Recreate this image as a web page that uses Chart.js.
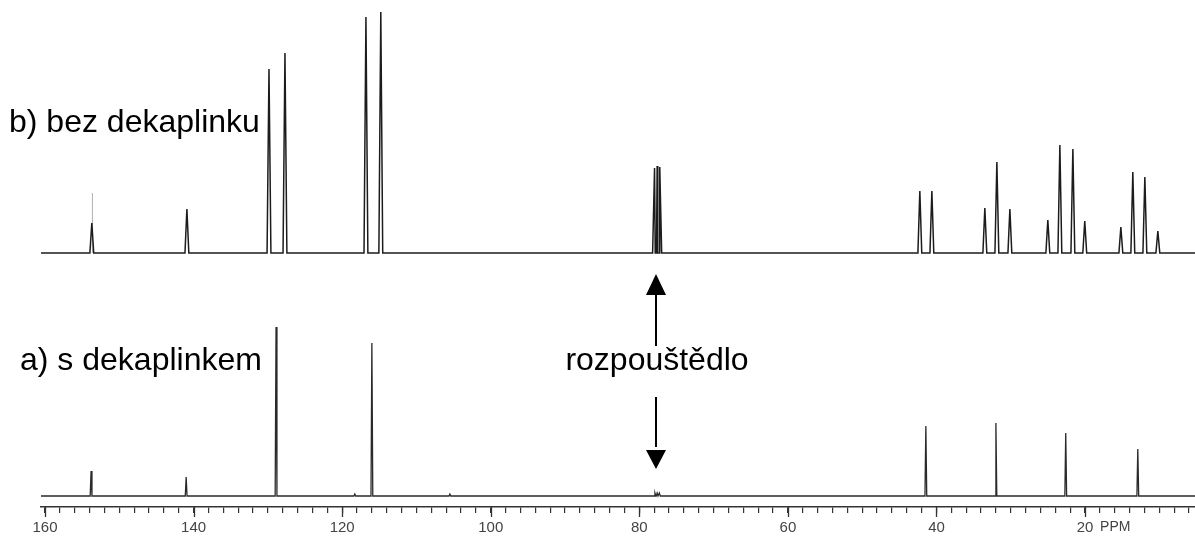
<!DOCTYPE html>
<html>
<head>
<meta charset="utf-8">
<script src="https://cdn.jsdelivr.net/npm/chart.js@4.4.0/dist/chart.umd.min.js"></script>
<style>
  html, body { margin: 0; padding: 0; background: #fff; }
  #wrap { width: 1195px; height: 537px; }
</style>
</head>
<body>
<div id="wrap"><canvas id="nmr" width="1195" height="537"></canvas></div>
<script>
// b) bez dekaplinku - peak shifts (ppm) and heights above baseline
var bShift  = [153.7, 140.9, 129.85, 127.7, 116.8, 114.8, 77.95, 77.6, 77.25,
               42.24, 40.62, 33.49, 31.87, 30.12, 25.01, 23.39, 21.64, 20.04, 15.18, 13.57, 11.95, 10.2];
var bHeight = [30, 44, 184, 200, 236, 241, 85, 87, 86,
               62, 62, 45, 91, 44, 33, 108, 104, 32, 26, 81, 76, 22];
// thin spike sitting on the 153.7 peak
var bSpikeShift  = [153.62];
var bSpikeHeight = [60];

// a) s dekaplinkem
var aShift  = [153.8, 141.0, 128.9, 118.3, 116.0, 105.5, 77.9, 77.6, 77.3, 41.43, 32.0, 22.6, 12.9];
var aHeight = [25, 19, 169, 2, 153, 2, 3, 3, 3, 70, 73, 63, 47];

var xTicks = [];
for (var t = 6; t <= 160; t += 2) xTicks.push(t);

var X_MIN = 5.2, X_MAX = 160.54;
var FONT = "'Liberation Sans', Arial, sans-serif";

function trace(shifts, heights, base, half) {
	var pts = [{x: X_MAX, y: base}, {x: X_MIN, y: base}];
	for (var i = 0; i < shifts.length; i++) {
		pts.push({x: shifts[i] + half, y: base});
		pts.push({x: shifts[i], y: base + heights[i]});
		pts.push({x: shifts[i] - half, y: base});
	}
	pts.sort(function(a, b) { return b.x - a.x; });
	return pts;
}

var spike = [];
for (var s = 0; s < bSpikeShift.length; s++) {
	spike.push({x: bSpikeShift[s], y: 254});
	spike.push({x: bSpikeShift[s], y: 254 + bSpikeHeight[s]});
}

var extras = {
	id: 'extras',
	afterDraw: function(chart) {
		var ctx = chart.ctx, xs = chart.scales.x, ys = chart.scales.y;
		var bottom = chart.chartArea.bottom;
		ctx.save();
		// longer ticks every 20 ppm
		ctx.strokeStyle = '#333';
		ctx.lineWidth = 1.3;
		for (var v = 20; v <= 160; v += 20) {
			var px = Math.round(xs.getPixelForValue(v)) + 0.5;
			ctx.beginPath();
			ctx.moveTo(px, bottom);
			ctx.lineTo(px, bottom + 10);
			ctx.stroke();
		}
		ctx.fillStyle = '#444';
		ctx.font = '14px ' + FONT;
		ctx.textBaseline = 'middle';
		ctx.textAlign = 'left';
		ctx.fillText('PPM', xs.getPixelForValue(20) + 15, 527);

		// trace labels
		ctx.fillStyle = '#000';
		ctx.font = '32px ' + FONT;
		ctx.textBaseline = 'alphabetic';
		ctx.fillText('b) bez dekaplinku', 9, 132);
		ctx.fillText('a) s dekaplinkem', 20, 370);

		// solvent label with arrows
		var ax = Math.round(xs.getPixelForValue(77.7));
		ctx.textAlign = 'center';
		ctx.fillText('rozpouštědlo', ax + 1, 370);
		ctx.strokeStyle = '#000';
		ctx.lineWidth = 2;
		ctx.beginPath();
		ctx.moveTo(ax, ys.getPixelForValue(161));
		ctx.lineTo(ax, ys.getPixelForValue(215));
		ctx.moveTo(ax, ys.getPixelForValue(110));
		ctx.lineTo(ax, ys.getPixelForValue(60));
		ctx.stroke();
		ctx.beginPath();
		ctx.moveTo(ax, ys.getPixelForValue(233));
		ctx.lineTo(ax - 10, ys.getPixelForValue(212));
		ctx.lineTo(ax + 10, ys.getPixelForValue(212));
		ctx.closePath();
		ctx.moveTo(ax, ys.getPixelForValue(38));
		ctx.lineTo(ax - 10, ys.getPixelForValue(57));
		ctx.lineTo(ax + 10, ys.getPixelForValue(57));
		ctx.closePath();
		ctx.fillStyle = '#000';
		ctx.fill();
		ctx.restore();
	}
};

var chart = new Chart(document.getElementById('nmr'), {
	type: 'line',
	data: {
		datasets: [
			{
				label: 'b) bez dekaplinku',
				data: trace(bShift, bHeight, 254, 0.26),
				borderColor: '#1c1c1c',
				borderWidth: 1.5,
				pointRadius: 0,
				tension: 0
			},
			{
				label: 'spike',
				data: spike,
				borderColor: '#999',
				borderWidth: 0.8,
				pointRadius: 0
			},
			{
				label: 'a) s dekaplinkem',
				data: trace(aShift, aHeight, 11, 0.12),
				borderColor: '#2a2a2a',
				borderWidth: 1.3,
				pointRadius: 0,
				tension: 0
			}
		]
	},
	options: {
		responsive: false,
		animation: false,
		devicePixelRatio: 1,
		layout: { padding: { left: 41, right: 0, top: 0, bottom: 0 } },
		plugins: { legend: { display: false }, tooltip: { enabled: false } },
		scales: {
			x: {
				type: 'linear',
				reverse: true,
				min: X_MIN,
				max: X_MAX,
				afterBuildTicks: function(scale) {
					scale.ticks = xTicks.map(function(v) { return {value: v}; });
				},
				afterFit: function(scale) { scale.height = 30; },
				grid: { drawOnChartArea: false, drawTicks: true, tickLength: 6, color: '#333', lineWidth: 1.2 },
				border: { display: true, color: '#333', width: 1.5 },
				ticks: {
					autoSkip: false,
					maxRotation: 0,
					padding: 6,
					color: '#444',
					font: { family: FONT, size: 15 },
					callback: function(v) { return v % 20 === 0 ? String(v) : ''; }
				}
			},
			y: { display: false, min: 0, max: 507 }
		}
	},
	plugins: [extras]
});
</script>
</body>
</html>
